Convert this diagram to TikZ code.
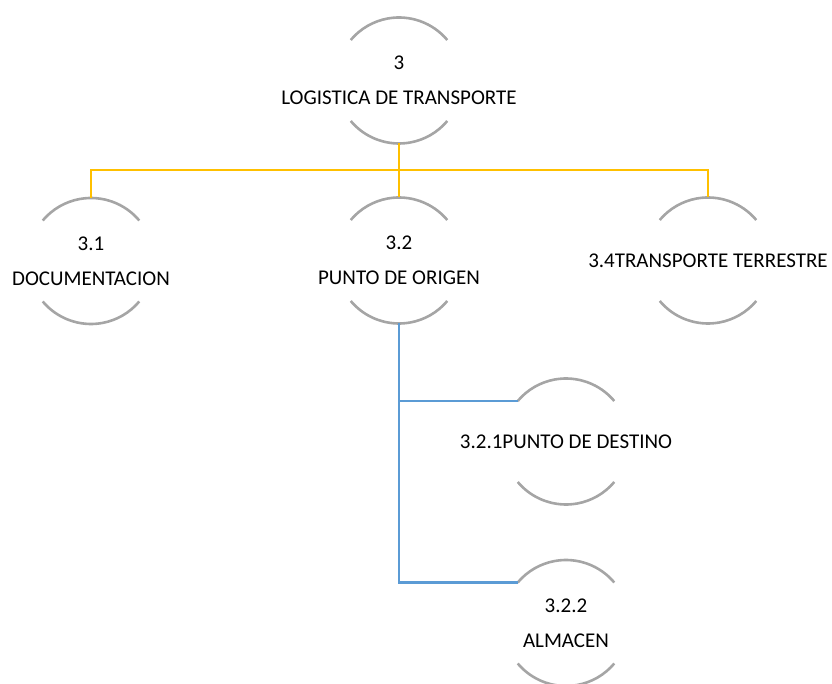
\documentclass[tikz,border=0pt]{standalone}
\usepackage{fontspec}
\setmainfont{Carlito}
\definecolor{ringgray}{HTML}{A5A5A5}
\definecolor{busyellow}{HTML}{FFC000}
\definecolor{busblue}{HTML}{5B9BD5}
\begin{document}
\begin{tikzpicture}[x=1pt,y=1pt,
  txt/.style={align=center,inner sep=0pt,text=black,font=\fontsize{21}{35}\selectfont},
  ring/.style={draw=ringgray,line width=2.6pt},
  yel/.style={draw=busyellow,line width=2.5pt},
  blu/.style={draw=busblue,line width=2.6pt}]
\useasboundingbox (0,0) rectangle (832,683);
\def\R{63pt}
% nodes
\node[txt] (n3)   at (399,602.5) {3\\LOGISTICA DE TRANSPORTE};
\node[txt] (n31)  at (91,422)    {3.1\\DOCUMENTACION};
\node[txt] (n32)  at (399,422.5) {3.2\\PUNTO DE ORIGEN};
\node[txt] (n34)  at (708,422.5) {3.4TRANSPORTE TERRESTRE};
\node[txt] (n321) at (566,241.5) {3.2.1PUNTO DE DESTINO};
\node[txt] (n322) at (566,60)    {3.2.2\\ALMACEN};
% ring arcs
\foreach \n in {n3,n31,n32,n34,n321,n322}{
  \draw[ring] ([shift={(40:\R)}]\n.center) arc[start angle=40,end angle=140,radius=\R];
  \draw[ring] ([shift={(220:\R)}]\n.center) arc[start angle=220,end angle=320,radius=\R];
  \coordinate (\n t) at ([shift={(90:\R)}]\n.center);
  \coordinate (\n b) at ([shift={(270:\R)}]\n.center);
  \coordinate (\n l) at ([shift={(140:\R)}]\n.center);
}
\coordinate (bus) at (0,513);
% yellow connectors
\draw[yel] (n3b) -- (n32t);
\draw[yel] (n31t) -- (n31t |- bus) -- (n34t |- bus) -- (n34t);
% blue connectors
\draw[blu] (n32b) |- (n321l);
\draw[blu] (n32b) |- (n322l);
\end{tikzpicture}
\end{document}
